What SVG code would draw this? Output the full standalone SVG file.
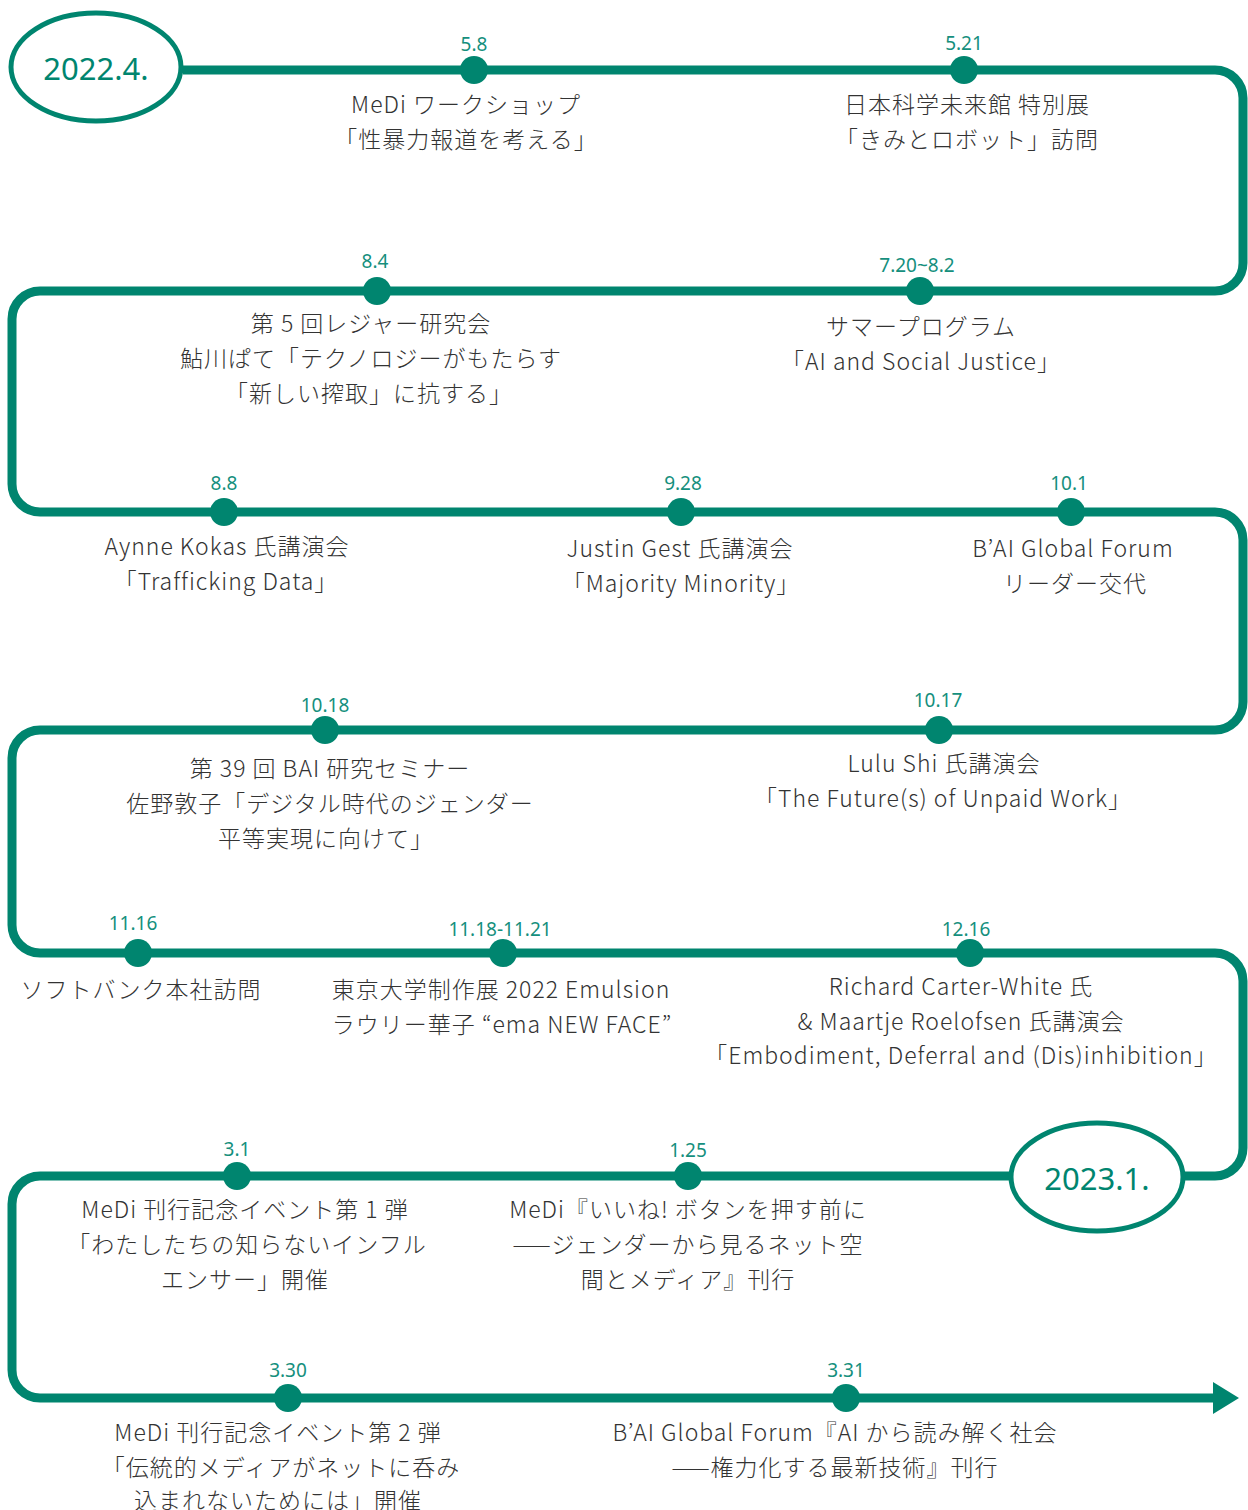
<svg xmlns="http://www.w3.org/2000/svg" width="1248" height="1510" viewBox="0 0 1248 1510">
<style>
.line{fill:none;stroke:#00856F;stroke-width:9;}
.dot{fill:#00856F;}
.oval{fill:#fff;stroke:#00856F;stroke-width:5;}
.year{font-family:"Noto Sans","Open Sans",sans-serif;font-size:31px;fill:#00856F;text-anchor:middle;}
.date{font-family:"Noto Sans","Open Sans",sans-serif;font-size:19px;fill:#158F7D;text-anchor:middle;}
.lbl{font-family:"Noto Sans CJK JP","Noto Sans",sans-serif;font-size:23px;font-weight:300;letter-spacing:1px;fill:#333;text-anchor:middle;}
</style>
<rect width="1248" height="1510" fill="#fff"/>
<g id="connectors">
<path class="line" d="M183,70 H1215 A28,28 0 0 1 1243,98 V263 A28,28 0 0 1 1215,291 H40 A28,28 0 0 0 12,319 V484 A28,28 0 0 0 40,512 H1215 A28,28 0 0 1 1243,540 V702 A28,28 0 0 1 1215,730 H40 A28,28 0 0 0 12,758 V925 A28,28 0 0 0 40,953 H1215 A28,28 0 0 1 1243,981 V1148 A28,28 0 0 1 1215,1176 H40 A28,28 0 0 0 12,1204 V1370 A28,28 0 0 0 40,1398 H1215"/>
<polygon points="1213,1382 1239,1398 1213,1414" fill="#00856F"/>
</g>
<g id="start">
<ellipse class="oval" cx="96" cy="67" rx="85" ry="54"/>
<text class="year" x="96" y="80">2022.4.</text>
</g>
<g id="end">
<ellipse class="oval" cx="1097" cy="1177" rx="86" ry="54"/>
<text class="year" x="1097" y="1190">2023.1.</text>
</g>
<g id="e0508">
<circle class="dot" cx="474" cy="70" r="14"/>
<text class="date" x="474" y="51">5.8</text>
<text class="lbl" x="466" y="113">MeDi ワークショップ</text>
<text class="lbl" x="466" y="148">「性暴力報道を考える」</text>
</g>
<g id="e0521">
<circle class="dot" cx="964" cy="70" r="14"/>
<text class="date" x="964" y="50">5.21</text>
<text class="lbl" x="967" y="113">日本科学未来館 特別展</text>
<text class="lbl" x="967" y="148">「きみとロボット」訪問</text>
</g>
<g id="e0720">
<circle class="dot" cx="920" cy="291" r="14"/>
<text class="date" x="917" y="272">7.20~8.2</text>
<text class="lbl" x="921" y="335">サマープログラム</text>
<text class="lbl" x="921" y="370">「AI and Social Justice」</text>
</g>
<g id="e0804">
<circle class="dot" cx="377" cy="291" r="14"/>
<text class="date" x="375" y="268">8.4</text>
<text class="lbl" x="371" y="332">第 5 回レジャー研究会</text>
<text class="lbl" x="371" y="367">鮎川ぱて「テクノロジーがもたらす</text>
<text class="lbl" x="369" y="402">「新しい搾取」に抗する」</text>
</g>
<g id="e0808">
<circle class="dot" cx="224" cy="512" r="14"/>
<text class="date" x="224" y="490">8.8</text>
<text class="lbl" x="227" y="555">Aynne Kokas 氏講演会</text>
<text class="lbl" x="226" y="590">「Trafficking Data」</text>
</g>
<g id="e0928">
<circle class="dot" cx="681" cy="512" r="14"/>
<text class="date" x="683" y="490">9.28</text>
<text class="lbl" x="680" y="557">Justin Gest 氏講演会</text>
<text class="lbl" x="681" y="592">「Majority Minority」</text>
</g>
<g id="e1001">
<circle class="dot" cx="1071" cy="512" r="14"/>
<text class="date" x="1069" y="490">10.1</text>
<text class="lbl" x="1073" y="557">B’AI Global Forum</text>
<text class="lbl" x="1075" y="592">リーダー交代</text>
</g>
<g id="e1017">
<circle class="dot" cx="939" cy="730" r="14"/>
<text class="date" x="938" y="707">10.17</text>
<text class="lbl" x="944" y="772">Lulu Shi 氏講演会</text>
<text class="lbl" x="943" y="807">「The Future(s) of Unpaid Work」</text>
</g>
<g id="e1018">
<circle class="dot" cx="325" cy="730" r="14"/>
<text class="date" x="325" y="712">10.18</text>
<text class="lbl" x="330" y="777">第 39 回 BAI 研究セミナー</text>
<text class="lbl" x="330" y="812">佐野敦子「デジタル時代のジェンダー</text>
<text class="lbl" x="326" y="847">平等実現に向けて」</text>
</g>
<g id="e1116">
<circle class="dot" cx="138" cy="953" r="14"/>
<text class="date" x="133" y="930">11.16</text>
<text class="lbl" x="141" y="998">ソフトバンク本社訪問</text>
</g>
<g id="e1118">
<circle class="dot" cx="503" cy="953" r="14"/>
<text class="date" x="500" y="936">11.18-11.21</text>
<text class="lbl" x="501" y="998">東京大学制作展 2022 Emulsion</text>
<text class="lbl" x="502" y="1033">ラウリー華子 “ema NEW FACE”</text>
</g>
<g id="e1216">
<circle class="dot" cx="970" cy="953" r="14"/>
<text class="date" x="966" y="936">12.16</text>
<text class="lbl" x="961" y="995">Richard Carter-White 氏</text>
<text class="lbl" x="961" y="1030">&amp; Maartje Roelofsen 氏講演会</text>
<text class="lbl" x="961" y="1064">「Embodiment, Deferral and (Dis)inhibition」</text>
</g>
<g id="e0125">
<circle class="dot" cx="688" cy="1176" r="14"/>
<text class="date" x="688" y="1157">1.25</text>
<text class="lbl" x="688" y="1218">MeDi『いいね! ボタンを押す前に</text>
<text class="lbl" x="688" y="1253">——ジェンダーから見るネット空</text>
<text class="lbl" x="688" y="1288">間とメディア』刊行</text>
</g>
<g id="e0301">
<circle class="dot" cx="237" cy="1176" r="14"/>
<text class="date" x="237" y="1156">3.1</text>
<text class="lbl" x="245" y="1218">MeDi 刊行記念イベント第 1 弾</text>
<text class="lbl" x="247" y="1253">「わたしたちの知らないインフル</text>
<text class="lbl" x="245" y="1288">エンサー」開催</text>
</g>
<g id="e0330">
<circle class="dot" cx="288" cy="1398" r="14"/>
<text class="date" x="288" y="1377">3.30</text>
<text class="lbl" x="278" y="1441">MeDi 刊行記念イベント第 2 弾</text>
<text class="lbl" x="281" y="1476">「伝統的メディアがネットに呑み</text>
<text class="lbl" x="278" y="1509">込まれないためには」開催</text>
</g>
<g id="e0331">
<circle class="dot" cx="846" cy="1398" r="14"/>
<text class="date" x="846" y="1377">3.31</text>
<text class="lbl" x="835" y="1441">B’AI Global Forum『AI から読み解く社会</text>
<text class="lbl" x="835" y="1476">——権力化する最新技術』刊行</text>
</g>
</svg>
